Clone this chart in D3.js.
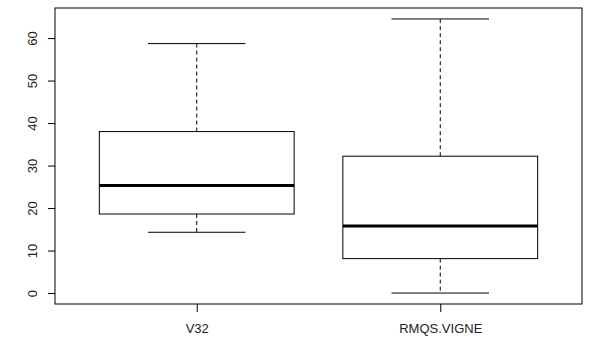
<!DOCTYPE html>
<html>
<head>
<meta charset="utf-8">
<script src="https://cdn.jsdelivr.net/npm/d3@7"></script>
<style>
  body { margin: 0; background: #fff; }
  text { font-family: 'Liberation Sans', Arial, sans-serif; }
</style>
</head>
<body>
<div id="chart"></div>
<script>
// boxplot stats
var groups = ['V32', 'RMQS.VIGNE'];
var lowWhisker = [14.3, 0];
var q1 = [18.6, 8.1];
var median = [25.3, 15.8];
var q3 = [38.0, 32.2];
var highWhisker = [58.7, 64.5];
var yTicks = [0, 10, 20, 30, 40, 50, 60];

var width = 593, height = 337;
var plot = {left: 55, right: 582, top: 8, bottom: 304};

var svg = d3.select('#chart').append('svg')
    .attr('width', width)
    .attr('height', height);

var x = d3.scaleLinear().domain([0.418, 2.582]).range([plot.left, plot.right]);
var y = d3.scaleLinear().domain([-2.58, 67.08]).range([plot.bottom, plot.top]);

var boxes = groups.map(function(g, i) {
  return {name: g, pos: i + 1, lo: lowWhisker[i], q1: q1[i], med: median[i], q3: q3[i], hi: highWhisker[i]};
});

var g = svg.selectAll('g.box').data(boxes).enter().append('g').attr('class', 'box');

// whiskers (dashed)
g.append('line')
    .attr('x1', function(d) { return x(d.pos); })
    .attr('x2', function(d) { return x(d.pos); })
    .attr('y1', function(d) { return y(d.q3); })
    .attr('y2', function(d) { return y(d.hi); })
    .attr('stroke', '#000').attr('stroke-dasharray', '4,3');
g.append('line')
    .attr('x1', function(d) { return x(d.pos); })
    .attr('x2', function(d) { return x(d.pos); })
    .attr('y1', function(d) { return y(d.q1); })
    .attr('y2', function(d) { return y(d.lo); })
    .attr('stroke', '#000').attr('stroke-dasharray', '4,3');

// caps
['hi', 'lo'].forEach(function(k) {
  g.append('line')
      .attr('x1', function(d) { return x(d.pos - 0.2); })
      .attr('x2', function(d) { return x(d.pos + 0.2); })
      .attr('y1', function(d) { return y(d[k]); })
      .attr('y2', function(d) { return y(d[k]); })
      .attr('stroke', '#000');
});

// box
g.append('rect')
    .attr('x', function(d) { return x(d.pos - 0.4); })
    .attr('width', function(d) { return x(d.pos + 0.4) - x(d.pos - 0.4); })
    .attr('y', function(d) { return y(d.q3); })
    .attr('height', function(d) { return y(d.q1) - y(d.q3); })
    .attr('fill', 'none').attr('stroke', '#000');

// median
g.append('line')
    .attr('x1', function(d) { return x(d.pos - 0.4); })
    .attr('x2', function(d) { return x(d.pos + 0.4); })
    .attr('y1', function(d) { return y(d.med); })
    .attr('y2', function(d) { return y(d.med); })
    .attr('stroke', '#000').attr('stroke-width', 3);

// frame
svg.append('rect')
    .attr('x', plot.left).attr('y', plot.top)
    .attr('width', plot.right - plot.left)
    .attr('height', plot.bottom - plot.top)
    .attr('fill', 'none').attr('stroke', '#000');

// y axis
var yAxis = svg.append('g')
    .attr('transform', 'translate(' + (plot.left - 8) + ',0)')
    .call(d3.axisLeft(y).tickValues(yTicks).tickSize(7).tickPadding(8));
yAxis.select('.domain').remove();
yAxis.selectAll('.tick line').attr('transform', 'translate(8,0)').attr('stroke', '#000');
yAxis.selectAll('.tick text')
    .attr('font-size', 13).attr('fill', '#222')
    .attr('x', 0).attr('y', -8)
    .attr('text-anchor', 'middle')
    .attr('dy', '0')
    .attr('transform', 'translate(-2,0) rotate(-90)');

// x axis
var xAxis = svg.append('g')
    .attr('transform', 'translate(0,' + plot.bottom + ')')
    .call(d3.axisBottom(x).tickValues([1, 2]).tickSize(8).tickPadding(12)
      .tickFormat(function(d) { return groups[d - 1]; }));
xAxis.select('.domain').remove();
xAxis.selectAll('.tick line').attr('stroke', '#000');
xAxis.selectAll('.tick text').attr('font-size', 13).attr('fill', '#222');
</script>
</body>
</html>
